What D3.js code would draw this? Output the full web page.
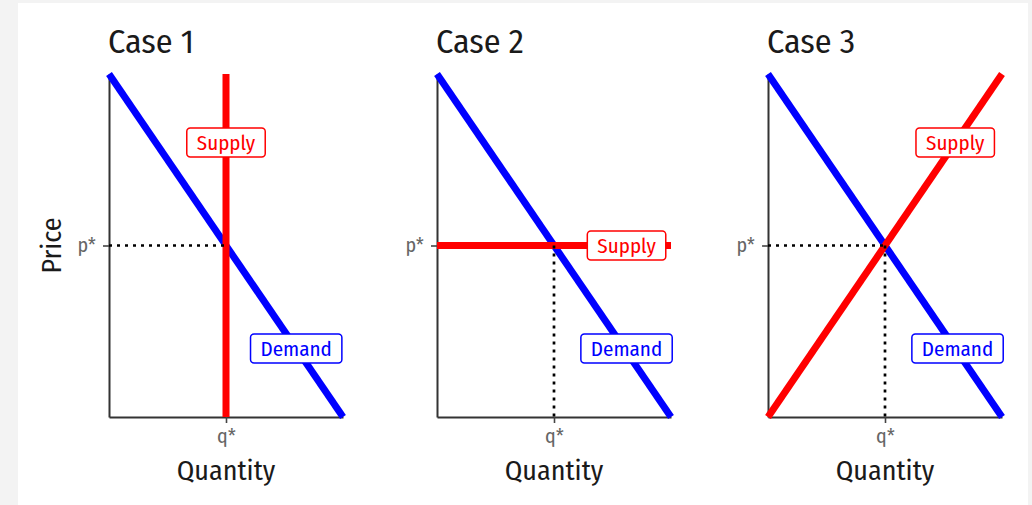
<!DOCTYPE html>
<html>
<head>
<meta charset="utf-8">
<script src="https://cdn.jsdelivr.net/npm/d3@7"></script>
<style>
  html, body { margin: 0; padding: 0; background: #f3f3f3; }
  body { width: 1032px; height: 505px; overflow: hidden; }
  svg { display: block; }
  text { font-family: "Fira Sans Condensed", Roboto, "Noto Sans", sans-serif; }
</style>
</head>
<body>
<div id="chart"></div>
<script>
// Chart data (quantity and price both run 0..1)
const caseTitles = ["Case 1", "Case 2", "Case 3"];
const demandLine = [[0, 1], [1, 0]];
const supplyLines = [
    [[0.5, 0], [0.5, 1]],   // vertical supply
    [[0, 0.5], [1, 0.5]],   // horizontal supply
    [[0, 0], [1, 1]]        // upward sloping supply
];
const qStar = 0.5;
const pStar = 0.5;
const showPriceGuide = [true, false, true];
const showQuantityGuide = [false, true, true];
const supplyLabelAt = [[0.5, 0.8], [0.81, 0.5], [0.8, 0.8]];
const demandLabelAt = [[0.8, 0.2], [0.81, 0.2], [0.81, 0.2]];

const width = 1032, height = 505;
const panelLeft = [109, 437, 768];
const panelWidth = 234;
const plotTop = 74, plotBottom = 417;

const svg = d3.select("#chart")
    .append("svg")
    .attr("width", width)
    .attr("height", height);

// white plot card
svg.append("rect")
    .attr("x", 18).attr("y", 3)
    .attr("width", 1010).attr("height", height - 3)
    .attr("fill", "#ffffff");

caseTitles.forEach((title, i) => {
    const x = d3.scaleLinear().domain([0, 1]).range([panelLeft[i], panelLeft[i] + panelWidth]);
    const y = d3.scaleLinear().domain([0, 1]).range([plotBottom, plotTop]);
    const line = d3.line().x(d => x(d[0])).y(d => y(d[1]));
    const g = svg.append("g");

    // title
    g.append("text")
        .attr("x", x(0) - 1).attr("y", 53)
        .attr("font-size", 34)
        .attr("fill", "#1a1a1a")
        .text(title);

    // axes
    const xAxis = g.append("g")
        .attr("transform", `translate(0,${plotBottom})`)
        .call(d3.axisBottom(x).tickValues([qStar]).tickFormat(() => "q*").tickSize(6).tickSizeOuter(0));
    const yAxis = g.append("g")
        .attr("transform", `translate(${x(0)},0)`)
        .call(d3.axisLeft(y).tickValues([pStar]).tickFormat(() => "p*").tickSize(6).tickSizeOuter(0));

    [xAxis, yAxis].forEach(a => {
        a.attr("font-family", null);
        a.select(".domain").attr("stroke", "#333").attr("stroke-width", 2);
        a.selectAll(".tick line").attr("stroke", "#444").attr("stroke-width", 1.6);
        a.selectAll(".tick text")
            .attr("font-size", 20)
            .attr("fill", "#666");
    });
    xAxis.selectAll(".tick text").attr("dy", "0.71em").attr("y", 12);
    yAxis.selectAll(".tick text").attr("x", -13).attr("dy", "0.3em");

    // axis titles
    g.append("text")
        .attr("x", (x(0) + x(1)) / 2).attr("y", 480)
        .attr("text-anchor", "middle")
        .attr("font-size", 28)
        .attr("fill", "#1a1a1a")
        .text("Quantity");
    if (i === 0) {
        g.append("text")
            .attr("transform", `translate(61,${y(pStar)}) rotate(-90)`)
            .attr("text-anchor", "middle")
            .attr("font-size", 28)
            .attr("fill", "#1a1a1a")
            .text("Price");
    }

    // demand and supply
    g.append("path")
        .attr("d", line(demandLine))
        .attr("fill", "none")
        .attr("stroke", "#0000ff")
        .attr("stroke-width", 7);
    g.append("path")
        .attr("d", line(supplyLines[i]))
        .attr("fill", "none")
        .attr("stroke", "#ff0000")
        .attr("stroke-width", 7);

    // dotted guides to the equilibrium
    const guides = [];
    if (showPriceGuide[i]) guides.push([[0, pStar], [qStar, pStar]]);
    if (showQuantityGuide[i]) guides.push([[qStar, pStar], [qStar, 0]]);
    g.selectAll(".guide")
        .data(guides)
        .enter().append("path")
        .attr("class", "guide")
        .attr("d", line)
        .attr("fill", "none")
        .attr("stroke", "#000")
        .attr("stroke-width", 2.7)
        .attr("stroke-dasharray", "3,5");

    // boxed labels
    addLabel(g, x(supplyLabelAt[i][0]), y(supplyLabelAt[i][1]), "Supply", "#ff0000");
    addLabel(g, x(demandLabelAt[i][0]), y(demandLabelAt[i][1]), "Demand", "#0000ff");
});

function addLabel(g, cx, cy, label, color) {
    const lg = g.append("g");
    const rect = lg.append("rect");
    const text = lg.append("text")
        .attr("x", cx).attr("y", cy)
        .attr("text-anchor", "middle")
        .attr("dy", "0.35em")
        .attr("font-size", 21)
        .attr("fill", color)
        .text(label);
    const w = text.node().getComputedTextLength();
    rect.attr("x", cx - w / 2 - 10)
        .attr("y", cy - 14.5)
        .attr("width", w + 20)
        .attr("height", 29)
        .attr("rx", 3.5)
        .attr("fill", "#fff")
        .attr("stroke", color)
        .attr("stroke-width", 1.5);
}
</script>
</body>
</html>
